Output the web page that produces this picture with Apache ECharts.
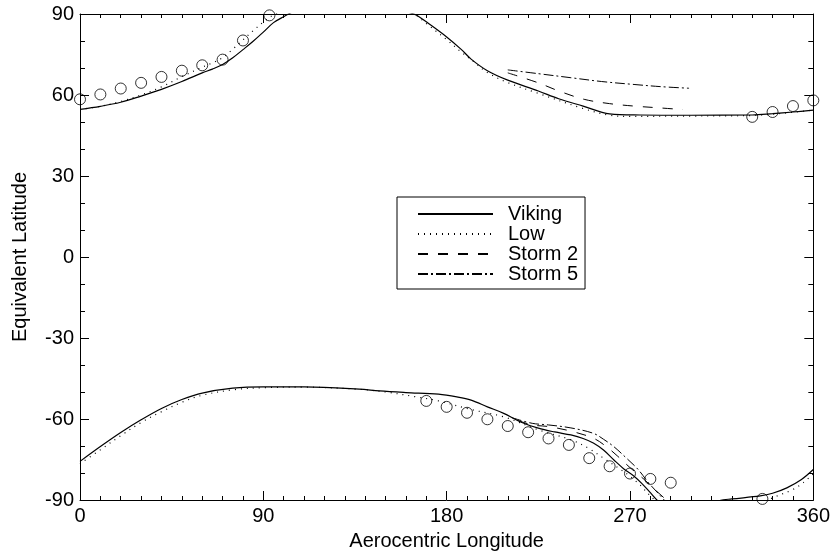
<!DOCTYPE html>
<html>
<head>
<meta charset="utf-8">
<title>Equivalent Latitude vs Aerocentric Longitude</title>
<script src="https://cdn.jsdelivr.net/npm/echarts@6/dist/echarts.min.js"></script>
<style>
  html, body { margin: 0; padding: 0; background: #fff; }
  #chart { width: 833px; height: 556px; }
</style>
</head>
<body>
<div id="chart"></div>
<script>
  // data: longitude / latitude pairs per curve
  var vikingNorthLon = [0, 10, 20, 30, 40, 50, 60, 65, 70, 75, 80, 85, 90, 95, 100, 110, 120, 135, 150, 160, 165, 172, 180, 187, 192, 200, 210, 225, 235, 247, 260, 275, 300, 330, 340, 350, 360];
  var vikingNorthLat = [54.7, 55.8, 57.3, 59.6, 62.1, 65, 68.2, 69.6, 71.3, 73.8, 76.8, 79.9, 83.3, 86.8, 89, 93, 96, 97, 94, 91, 89.6, 86, 81.5, 77, 73.3, 69, 65.5, 61.5, 58.6, 55.9, 53, 52.6, 52.5, 52.6, 53.1, 53.7, 54.4];

  var lowNorthLon = [0, 10, 20, 30, 40, 50, 60, 65, 70, 75, 80, 85, 90, 96, 105, 120, 140, 160, 165, 170, 180, 187, 193, 200, 210, 225, 247, 260, 270, 300, 330, 340, 350, 360];
  var lowNorthLat = [54.7, 55.8, 57.6, 60, 63, 66.8, 70.3, 71.9, 73.8, 77, 80.4, 83.8, 87, 90, 92, 93, 93, 92, 89.6, 86.5, 80.5, 76, 72.5, 68.3, 64.6, 60.6, 55, 52.5, 52.1, 52.2, 52.4, 52.9, 53.6, 54.4];

  var storm2NorthLon = [210, 225, 235, 247.5, 260, 272, 285, 296];
  var storm2NorthLat = [68.2, 64.5, 61.5, 58.4, 56.8, 55.9, 55.2, 54.6];

  var storm5NorthLon = [210, 225, 241, 256, 272, 285, 299];
  var storm5NorthLat = [69.3, 67.9, 66.4, 65, 63.9, 63.1, 62.5];

  var vikingSouthLon = [0, 10, 20, 30, 40, 50, 60, 75, 90, 110, 137, 147, 160, 176, 185, 192, 200, 208, 216, 225, 233, 241, 247, 252, 257, 262, 267, 272, 276, 280, 284, 290, 300, 310, 314, 320, 334, 340, 347, 354, 360];
  var vikingSouthLat = [-75.7, -70.2, -65, -60.3, -56.1, -52.8, -50.4, -48.6, -48.1, -48.1, -48.9, -49.6, -50.2, -50.8, -51.8, -53, -55.5, -57.9, -61, -63.4, -64.8, -65.9, -67.2, -68.9, -71.5, -75.1, -78.5, -81.2, -84, -87.3, -90.5, -93.5, -94.5, -91.5, -90.2, -89.6, -88.5, -87.5, -85.5, -82.5, -78.7];

  var lowSouthLon = [0, 10, 20, 30, 40, 50, 60, 75, 90, 110, 137, 150, 165, 176, 192, 208, 225, 241, 250, 257, 264, 270, 275, 280, 284, 300, 320, 335, 340, 350, 355, 360];
  var lowSouthLat = [-76.6, -71.4, -66.2, -61.3, -57.3, -53.8, -51.2, -49.2, -48.4, -48.2, -49, -50, -51.8, -53.3, -56.5, -59.2, -64, -67.7, -71, -74.5, -78, -81.2, -84.5, -88.5, -91, -96, -95, -91, -89.2, -86.1, -83.6, -80.3];

  var storm2SouthLon = [215, 222, 230, 241, 252, 258, 264, 270, 277, 282, 287, 290];
  var storm2SouthLat = [-60.5, -62.2, -62.8, -64.5, -67.1, -70, -73.8, -78, -82.4, -86, -89.4, -91.5];

  var storm5SouthLon = [212, 222, 230, 241, 252, 257, 262, 268, 274, 279, 285, 288];
  var storm5SouthLat = [-59.5, -61.6, -62.2, -63.3, -65.3, -67.5, -70.2, -74.3, -78.7, -83.5, -88.5, -91];

  // circles
  var obsLon = [0, 10, 20, 30, 40, 50, 60, 70, 80, 93, 330, 340, 350, 360,
                170, 180, 190, 200, 210, 220, 230, 240, 250, 260, 270, 280, 290, 335];
  var obsLat = [58.4, 60.2, 62.4, 64.5, 66.7, 69, 71, 73.1, 80.2, 89.5, 51.9, 53.7, 55.9, 58,
                -53.3, -55.5, -57.7, -60.1, -62.6, -64.9, -67.2, -69.6, -74.5, -77.5, -80.2, -82.2, -83.6, -89.6];

  var xTicks = [0, 90, 180, 270, 360];
  var yTicks = [-90, -60, -30, 0, 30, 60, 90];
  var legendNames = ['Viking', 'Low', 'Storm 2', 'Storm 5'];

  function zip(a, b) {
    var out = [];
    for (var i = 0; i < a.length; i++) {
      out.push([a[i], b[i]]);
    }
    return out;
  }

  var font = 'Liberation Sans, Arial, Helvetica, sans-serif';

  function lineSeries(name, lon, lat, dash, width) {
    return {
      name: name,
      type: 'line',
      data: zip(lon, lat),
      smooth: 0.35,
      symbol: 'none',
      clip: true,
      silent: true,
      lineStyle: { color: '#000', width: width, type: dash }
    };
  }

  function xAxisOf(pos, showLabel) {
    return {
      type: 'value',
      position: pos,
      min: xTicks[0],
      max: xTicks[xTicks.length - 1],
      interval: 90,
      name: showLabel ? 'Aerocentric Longitude' : '',
      nameLocation: 'middle',
      nameGap: 31,
      nameTextStyle: { fontSize: 20, color: '#000', fontFamily: font },
      axisLine: { show: true, onZero: false, lineStyle: { color: '#000', width: 1 } },
      axisTick: { show: true, inside: true, length: 9, lineStyle: { color: '#000' } },
      minorTick: { show: true, splitNumber: 9, length: 4, lineStyle: { color: '#000' } },
      axisLabel: { show: showLabel, fontSize: 20, color: '#000', fontFamily: font, margin: 6 },
      splitLine: { show: false }
    };
  }

  function yAxisOf(pos, showLabel) {
    return {
      type: 'value',
      position: pos,
      min: yTicks[0],
      max: yTicks[yTicks.length - 1],
      interval: 30,
      name: showLabel ? 'Equivalent Latitude' : '',
      nameLocation: 'middle',
      nameGap: 50,
      nameTextStyle: { fontSize: 20, color: '#000', fontFamily: font },
      axisLine: { show: true, onZero: false, lineStyle: { color: '#000', width: 1 } },
      axisTick: { show: true, inside: true, length: 9, lineStyle: { color: '#000' } },
      minorTick: { show: true, splitNumber: 3, length: 5, lineStyle: { color: '#000' } },
      axisLabel: { show: showLabel, fontSize: 20, color: '#000', fontFamily: font, margin: 6,
                   showMinLabel: true, showMaxLabel: true },
      splitLine: { show: false }
    };
  }

  var option = {
    animation: false,
    backgroundColor: '#fff',
    grid: { left: 80, right: 16, top: 14, bottom: 52 },
    legend: {
      data: legendNames,
      orient: 'vertical',
      left: 397,
      top: 197,
      padding: [7, 7, 5, 20],
      itemWidth: 75,
      itemHeight: 14,
      itemGap: 0,
      borderColor: '#000',
      borderWidth: 1,
      selectedMode: false,
      itemStyle: { opacity: 0 },
      textStyle: { fontSize: 20, color: '#000', fontFamily: font, lineHeight: 19.6, padding: [0, 0, 0, 10] }
    },
    xAxis: [xAxisOf('bottom', true), xAxisOf('top', false)],
    yAxis: [yAxisOf('left', true), yAxisOf('right', false)],
    series: [
      lineSeries('Viking', vikingNorthLon, vikingNorthLat, 'solid', 1.2),
      lineSeries('Viking', vikingSouthLon, vikingSouthLat, 'solid', 1.2),
      lineSeries('Low', lowNorthLon, lowNorthLat, [1, 5], 1.2),
      lineSeries('Low', lowSouthLon, lowSouthLat, [1, 5], 1.2),
      lineSeries('Storm 2', storm2NorthLon, storm2NorthLat, [10, 10], 1),
      lineSeries('Storm 2', storm2SouthLon, storm2SouthLat, [10, 10], 1),
      lineSeries('Storm 5', storm5NorthLon, storm5NorthLat, [10, 3, 2, 3], 1),
      lineSeries('Storm 5', storm5SouthLon, storm5SouthLat, [10, 3, 2, 3], 1),
      {
        name: 'Obs',
        type: 'scatter',
        data: zip(obsLon, obsLat),
        symbol: 'circle',
        symbolSize: 11,
        clip: true,
        silent: true,
        itemStyle: { color: 'rgba(0,0,0,0)', borderColor: '#000', borderWidth: 1 }
      }
    ]
  };

  var myChart = echarts.init(document.getElementById('chart'), null, { renderer: 'canvas' });
  myChart.setOption(option);
</script>
</body>
</html>
